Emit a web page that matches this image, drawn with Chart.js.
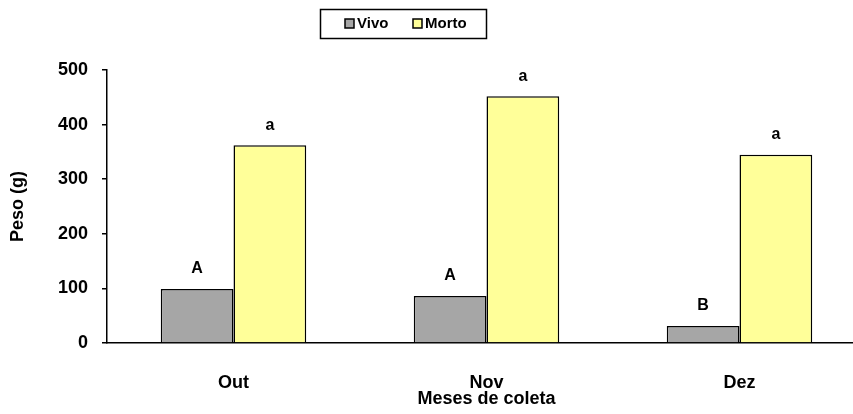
<!DOCTYPE html>
<html>
<head>
<meta charset="utf-8">
<script src="https://cdn.jsdelivr.net/npm/chart.js@4.4.1/dist/chart.umd.min.js"></script>
<style>
  html, body { margin: 0; padding: 0; background: #fff; overflow: hidden; }
  #wrap { position: relative; width: 866px; height: 414px; }
</style>
</head>
<body>
<div id="wrap"><canvas id="chart"></canvas></div>
<script>
// data
var meses = ['Out', 'Nov', 'Dez']
var vivo = [99, 86, 31]
var morto = [362, 452, 345]
var letrasVivo = ['A', 'A', 'B']
var letrasMorto = ['a', 'a', 'a']
var yTicks = [0, 100, 200, 300, 400, 500]

var fontFam = '"Liberation Sans", Arial, sans-serif'

// letters over each bar
var letrasPlugin = {
    id: 'letras',
    afterDatasetsDraw: function(chart){
        var ctx = chart.ctx
        var sets = [letrasVivo, letrasMorto]
        ctx.save()
        ctx.font = 'bold 16px ' + fontFam
        ctx.fillStyle = '#000'
        ctx.textAlign = 'center'
        ctx.textBaseline = 'middle'
        for(var d=0; d<2; d++){
            var meta = chart.getDatasetMeta(d)
            meta.data.forEach(function(bar, i){
                ctx.fillText(sets[d][i], bar.x, bar.y - 20)
            })
        }
        ctx.restore()
    }
}

// boxed legend at the top, like the excel one
var legendBox = {
    id: 'legendBox',
    afterDraw: function(chart){
        var ctx = chart.ctx
        ctx.save()
        ctx.strokeStyle = '#000'
        ctx.lineWidth = 1.5
        ctx.strokeRect(320.5, 9.5, 166, 29)
        ctx.font = 'bold 15px ' + fontFam
        ctx.textBaseline = 'middle'
        ctx.textAlign = 'left'
        var xs = [345, 413]
        chart.data.datasets.forEach(function(ds, i){
            ctx.fillStyle = ds.backgroundColor
            ctx.fillRect(xs[i], 19, 9, 9)
            ctx.strokeStyle = '#000'
            ctx.lineWidth = 1.5
            ctx.strokeRect(xs[i], 19, 9, 9)
            ctx.fillStyle = '#000'
            ctx.fillText(ds.label, xs[i] + 12, 24)
        })
        ctx.restore()
    }
}

var ctx = document.getElementById('chart').getContext('2d')
new Chart(ctx, {
    type: 'bar',
    data: {
        labels: meses,
        datasets: [{
            label: 'Vivo',
            data: vivo,
            backgroundColor: '#a6a6a6',
            borderColor: '#000',
            borderWidth: 1.5
        }, {
            label: 'Morto',
            data: morto,
            backgroundColor: '#ffff99',
            borderColor: '#000',
            borderWidth: 1.5
        }]
    },
    options: {
        responsive: true,
        maintainAspectRatio: false,
        animation: false,
        layout: { padding: { top: 70, left: 0, right: 0, bottom: 4 } },
        datasets: {
            bar: { categoryPercentage: 0.575, barPercentage: 1.0 }
        },
        plugins: {
            legend: { display: false },
            tooltip: { enabled: false }
        },
        scales: {
            x: {
                afterFit: function(axis){ axis.height = 67 },
                grid: { display: false, drawTicks: false },
                border: { color: '#000', width: 1.5 },
                ticks: {
                    color: '#000',
                    padding: 29,
                    font: { family: fontFam, size: 18, weight: 'bold' }
                },
                title: {
                    display: true,
                    text: 'Meses de coleta',
                    color: '#000',
                    padding: { top: 0, bottom: 0 },
                    font: { family: fontFam, size: 18, weight: 'bold' }
                }
            },
            y: {
                min: 0,
                max: 500,
                afterFit: function(axis){ axis.width = 107 },
                afterBuildTicks: function(axis){
                    axis.ticks = yTicks.map(function(v){ return {value: v} })
                },
                grid: { drawOnChartArea: false, drawTicks: true, tickLength: 5, color: '#000', lineWidth: 1.5 },
                border: { color: '#000', width: 1.5 },
                ticks: {
                    color: '#000',
                    padding: 14,
                    font: { family: fontFam, size: 18, weight: 'bold' }
                },
                title: {
                    display: true,
                    text: 'Peso (g)',
                    color: '#000',
                    padding: { top: 7, bottom: 0 },
                    font: { family: fontFam, size: 18, weight: 'bold' }
                }
            }
        }
    },
    plugins: [letrasPlugin, legendBox]
})
</script>
</body>
</html>
